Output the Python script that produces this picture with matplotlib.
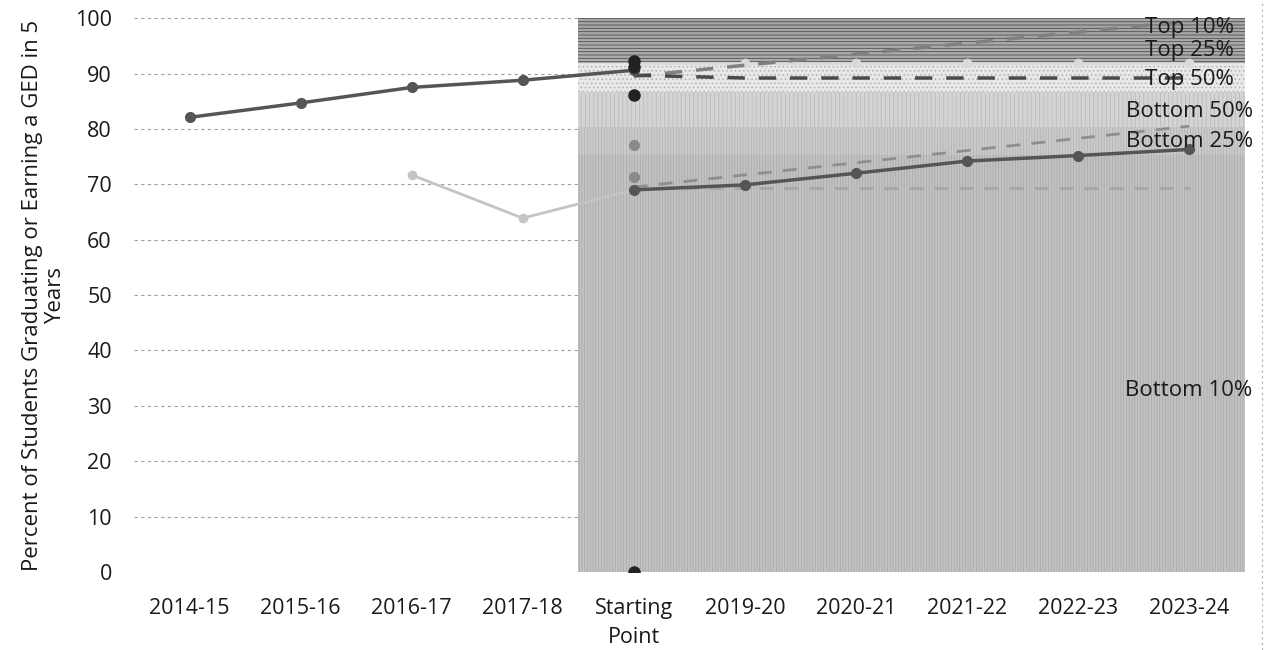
import numpy as np
import matplotlib
matplotlib.use("Agg")
import matplotlib.pyplot as plt

plt.rcParams['font.family'] = ['Open Sans', 'DejaVu Sans']
plt.rcParams['hatch.linewidth'] = 0.6

years = ['2014-15', '2015-16', '2016-17', '2017-18', 'Starting\nPoint',
         '2019-20', '2020-21', '2021-22', '2022-23', '2023-24']

# history up to the starting point
school_hist = [82.1, 84.7, 87.5, 88.8, 90.6]
other_hist = [71.7, 63.9, 69.0]

# goal lines from the starting point to 2023-24
top10_goal = [89.5, 91.5, 93.5, 95.5, 97.5, 99.5]
top50_goal = [89.7, 89.2, 89.2, 89.2, 89.2, 89.2]
top25_goal = [91.9, 91.9, 91.9, 91.9, 91.9, 91.9]
low_goal = [69.0, 69.9, 72.0, 74.2, 75.2, 76.3]
low_rise = [69.5, 71.7, 73.9, 76.1, 78.3, 80.5]
low_flat = [69.3, 69.3, 69.3, 69.3, 69.3, 69.3]

# starting point values of the comparison groups
start_black = [92.3, 91.2, 86.1, 0.0]
start_gray = [77.1, 71.3]

# percentile bands (upper edge of each band)
band_names = ['Bottom 10%', 'Bottom 25%', 'Bottom 50%', 'Top 50%', 'Top 25%', 'Top 10%']
band_tops = [75.3, 80.3, 86.6, 91.9, 96.0, 100.0]
band_colors = ['#c3c3c3', '#cbcbcb', '#d4d4d4', '#e8e8e8', '#acacac', '#a6a6a6']
band_edges = ['#a9a9a9', '#b3b3b3', '#bcbcbc', '#b0b0b0', '#505050', '#505050']
band_hatch = ['||||||', '||||||', '||||', '....', '-----', '-----']
label_y = [32.8, 77.8, 83.2, 89.0, 94.1, 98.3]

fig = plt.figure(figsize=(12.7, 6.5), dpi=100)
ax = fig.add_axes([0.1055, 0.12, 0.8745, 0.852])

x = np.arange(len(years))
start = 4
fut = x[start:]

ax.set_yticks(np.arange(0, 101, 10))
ax.yaxis.grid(True, color='#a0a0a0', lw=0.8, ls=(0, (3, 3)), zorder=0)
ax.set_axisbelow(True)

# shaded percentile bands behind the goal years
xs = [start - 0.5, len(years) - 0.5]
lo = 0
for top, c, e, h in zip(band_tops, band_colors, band_edges, band_hatch):
    ax.fill_between(xs, lo, top, facecolor=c, edgecolor=e, hatch=h,
                    lw=0, zorder=1)
    lo = top

dark = '#555555'
ax.plot(x[:start + 1], school_hist, color=dark, lw=2.5, marker='o', ms=7, zorder=5)
ax.plot(x[2:start + 1], other_hist, color='#c4c4c4', lw=2, marker='o', ms=6,
        zorder=4)

ax.plot(fut, top25_goal, color='#dadada', lw=2, marker='o', ms=6, zorder=3)
ax.plot(fut, top10_goal, color='#808080', lw=2.5, ls=(0, (5, 4)), zorder=4)
ax.plot(fut, top50_goal, color='#4a4a4a', lw=2.5, ls=(0, (5, 4)), zorder=4)
ax.plot(fut, low_flat, color='#a6a6a6', lw=2, ls=(0, (5, 4)), zorder=3)
ax.plot(fut, low_rise, color='#8e8e8e', lw=2, ls=(0, (5, 4)), zorder=3)
ax.plot(fut, low_goal, color=dark, lw=2.5, marker='o', ms=7, zorder=5)

ax.plot([start] * len(start_black), start_black, 'o', color='#222222', ms=8, zorder=6)
ax.plot([start] * len(start_gray), start_gray, 'o', color='#8a8a8a', ms=7, zorder=6)

for name, yy in zip(band_names, label_y):
    ax.text(x[-1], yy, name, ha='center', va='center', fontsize=16,
            color='#1a1a1a', zorder=7)

ax.set_xlim(-0.5, len(years) - 0.5)
ax.set_ylim(0, 100)
ax.set_xticks(x)
ax.set_xticklabels(years)
ax.tick_params(axis='both', length=0, labelsize=15.5, colors='#1a1a1a')
ax.tick_params(axis='x', pad=19)
ax.tick_params(axis='y', pad=16)
for lab in ax.get_xticklabels():
    lab.set_linespacing(1.45)
for s in ax.spines.values():
    s.set_visible(False)

ax.set_ylabel('Percent of Students Graduating or Earning a GED in 5\nYears',
              fontsize=16, color='#1a1a1a', labelpad=6, linespacing=1.15)

# page edge
fig.add_artist(plt.Line2D([0.994, 0.994], [0, 1], color='#b0b0b0', lw=0.8,
                          ls=(0, (2, 3))))

fig.savefig('out.png', dpi=100)
